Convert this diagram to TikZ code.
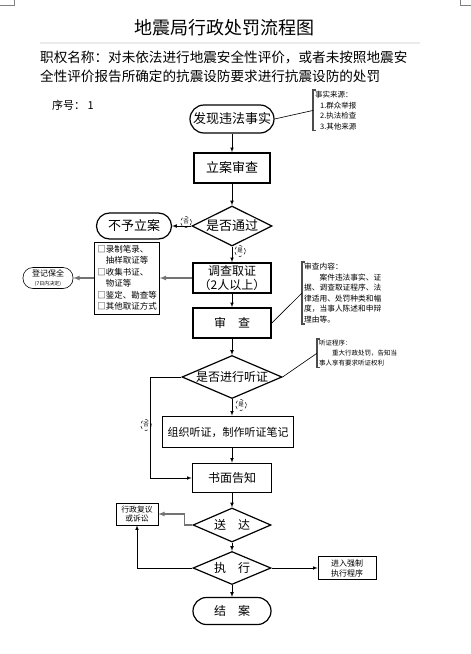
\documentclass[tikz,border=0pt]{standalone}
\usepackage{fontspec}
\setmainfont{Noto Sans CJK SC}
\usepackage{tikz}
\usetikzlibrary{arrows}
\usetikzlibrary{shapes.geometric}

\begin{document}
\begin{tikzpicture}
[every node/.style={inner sep=0pt},
 mainbox/.style={rectangle, fill=white, line width=1.6pt, draw=black},
 termnode/.style={rectangle, fill=white, line width=1.2pt, draw=black},
 decision/.style={diamond, aspect=2, fill=white, line width=1.2pt, draw=black},
 sidebox/.style={rectangle, fill=white, line width=0.6pt, draw=black},
 notetext/.style={anchor=north west, align=left, inner xsep=2pt, inner ysep=1pt},
 tagcircle/.style={circle, dashed, minimum size=11pt, line width=0.5pt, draw=black, font=\fontsize{5.5pt}{6pt}\selectfont},
 bracket/.style={line width=1.1pt, color=black!70},
 flow/.style={line width=0.625, ->, >=latex}]
\path [use as bounding box, fill=white] (0pt,0pt) rectangle (471pt,-654pt);
\draw [line width=0.5pt, color=black!50] (0pt,-5pt) -- (14pt,-5pt) -- (14pt,0pt);
\draw [line width=0.5pt, color=black!50] (471pt,-5pt) -- (460pt,-5pt) -- (460pt,0pt);
\draw [line width=2pt, color=black!8] (40pt,-43pt) -- (420pt,-43pt);
\node (t) [font=\fontsize{18pt}{20pt}\selectfont] at (224pt, -28pt) {地震局行政处罚流程图};
\node (h) [anchor=north west, align=left, font=\fontsize{13.6pt}{19pt}\selectfont] at (40pt, -51pt) {职权名称：对未依法进行地震安全性评价，或者未按照地震安\\全性评价报告所确定的抗震设防要求进行抗震设防的处罚};
\node (s) [font=\fontsize{11pt}{13pt}\selectfont] at (73pt, -105pt) {序号：~1};
\node (1) [termnode, rounded corners=14pt, minimum width=84pt, minimum height=28pt, font=\fontsize{13pt}{15pt}\selectfont] at (232pt, -119pt) {发现违法事实};
\node (2) [mainbox, minimum width=76pt, minimum height=30pt, font=\fontsize{13pt}{15pt}\selectfont] at (232pt, -168pt) {立案审查};
\node (3) [decision, minimum width=80pt, minimum height=40pt, font=\fontsize{13pt}{15pt}\selectfont] at (232pt, -226pt) {是否通过};
\node (4) [termnode, rounded corners=13pt, minimum width=75pt, minimum height=26pt, font=\fontsize{13pt}{15pt}\selectfont] at (134pt, -226pt) {不予立案};
\node (5) [mainbox, align=center, minimum width=78pt, minimum height=30pt, font=\fontsize{12pt}{13.5pt}\selectfont] at (232pt, -278pt) {调查取证\\（2人以上）};
\node (6) [mainbox, minimum width=78pt, minimum height=30pt, font=\fontsize{12pt}{14pt}\selectfont] at (232pt, -323pt) {审　查};
\node (7) [decision, aspect=2.4, minimum width=100pt, minimum height=43pt, font=\fontsize{12pt}{14pt}\selectfont] at (232pt, -377pt) {是否进行听证};
\node (8) [mainbox, minimum width=131pt, minimum height=31pt, font=\fontsize{11pt}{13pt}\selectfont] at (228pt, -432pt) {组织听证，制作听证笔记};
\node (9) [mainbox, minimum width=79pt, minimum height=29pt, font=\fontsize{12pt}{14pt}\selectfont] at (232pt, -478pt) {书面告知};
\node (10) [decision, minimum width=78pt, minimum height=34pt, font=\fontsize{12pt}{14pt}\selectfont] at (232pt, -525pt) {送　达};
\node (11) [decision, minimum width=78pt, minimum height=33pt, font=\fontsize{12pt}{14pt}\selectfont] at (232pt, -568pt) {执　行};
\node (12) [termnode, rounded corners=13.5pt, minimum width=78pt, minimum height=27pt, font=\fontsize{12pt}{14pt}\selectfont] at (232pt, -611pt) {结　案};
\node (13) [sidebox, align=left, minimum width=65pt, minimum height=72pt, font=\fontsize{8.5pt}{11.5pt}\selectfont] at (127pt, -278pt) {□录制笔录、\\　抽样取证等\\□收集书证、\\　物证等\\□鉴定、勘查等\\□其他取证方式};
\node (14) [sidebox, rounded corners=10pt, align=center, minimum width=50pt, minimum height=21pt, font=\fontsize{8pt}{9.5pt}\selectfont] at (48pt, -278pt) {登记保全\\{\fontsize{5pt}{6pt}\selectfont (7日内决定)}};
\node (15) [sidebox, align=center, minimum width=42pt, minimum height=22pt, font=\fontsize{7.8pt}{9.5pt}\selectfont] at (137pt, -514pt) {行政复议\\或诉讼};
\node (16) [sidebox, align=center, minimum width=58pt, minimum height=23pt, font=\fontsize{8pt}{10pt}\selectfont] at (347pt, -568pt) {进入强制\\执行程序};
\node (17) [notetext, font=\fontsize{7.5pt}{10.5pt}\selectfont] at (313pt, -90pt) {事实来源：\\\hspace*{5pt}1.群众举报\\\hspace*{5pt}2.执法检查\\\hspace*{5pt}3.其他来源};
\node (18) [notetext, font=\fontsize{7.7pt}{10.5pt}\selectfont] at (302pt, -262pt) {审查内容：\\　　案件违法事实、证\\据、调查取证程序、法\\律适用、处罚种类和幅\\度，当事人陈述和申辩\\理由等。};
\node (19) [notetext, font=\fontsize{6.5pt}{10pt}\selectfont] at (317pt, -339pt) {听证程序：\\　　重大行政处罚，告知当\\事人享有要求听证权利};
\draw [bracket] ([xshift=3pt]17.north west) -- (17.north west) -- (17.south west) -- ++(3pt,0pt);
\draw [bracket] ([xshift=3pt]18.north west) -- (18.north west) -- (18.south west) -- ++(3pt,0pt);
\draw [bracket] ([xshift=3pt]19.north west) -- (19.north west) -- (19.south west) -- ++(3pt,0pt);
\draw [line width=0.625] (1.east) to (17.west);
\draw [line width=0.625] (6.east) to (18.west);
\draw [line width=0.625] (7.east) to (19.west);
\draw [flow] (1) to (2);
\draw [flow] (2) to (3);
\draw [flow] (3) to (4);
\draw [flow] (3) to (5);
\draw [flow, line width=1.2, color=black!55] (5) to (13);
\draw [flow, line width=1.2, color=black!55] (13) to (14);
\draw [flow] (5) to (6);
\draw [flow] (6) to (7);
\draw [flow] (7) to (7 |- 8.north);
\draw [flow] (7.west) -- ++(-31pt,0pt) |- (9.west);
\draw [flow] (9 |- 8.south) to (9);
\draw [flow] (9) to (10);
\draw [flow, line width=1.2, color=black!55] (10.west) -- ++(-8pt,0pt) |- (15.east);
\draw [flow] (10) to (11);
\draw [flow] (11.west) -| (15.south);
\draw [flow] (11) to (16);
\draw [flow] (11) to (12);
\node (20) [tagcircle] at (186pt, -222pt) {否};
\node (21) [tagcircle] at (240pt, -251pt) {是};
\node (22) [tagcircle] at (241pt, -405pt) {是};
\node (23) [tagcircle] at (146pt, -425pt) {否};
\end{tikzpicture}
\end{document}
